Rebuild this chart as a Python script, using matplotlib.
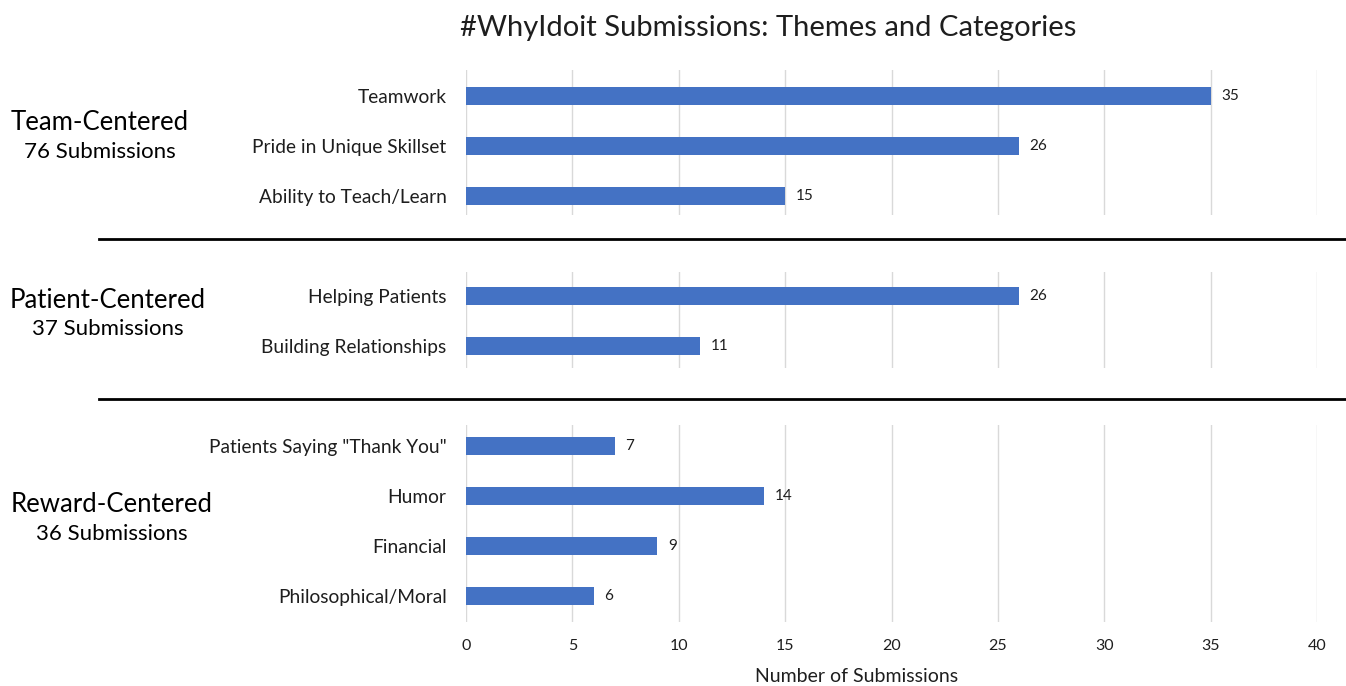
import matplotlib
matplotlib.use("Agg")
import matplotlib.pyplot as plt
from matplotlib.lines import Line2D

plt.rcParams['font.family'] = ['Lato', 'DejaVu Sans']

title = "#WhyIdoit Submissions: Themes and Categories"
xlabel = "Number of Submissions"

group_names = ["Team-Centered", "Patient-Centered", "Reward-Centered"]
group_totals = ["76 Submissions", "37 Submissions", "36 Submissions"]

team_cats = ["Teamwork", "Pride in Unique Skillset", "Ability to Teach/Learn"]
team_vals = [35, 26, 15]
patient_cats = ["Helping Patients", "Building Relationships"]
patient_vals = [26, 11]
reward_cats = ['Patients Saying "Thank You"', "Humor", "Financial", "Philosophical/Moral"]
reward_vals = [7, 14, 9, 6]

xticks = [0, 5, 10, 15, 20, 25, 30, 35, 40]

W, H = 1346, 686
fig = plt.figure(figsize=(W / 100, H / 100), dpi=100)

def fy(py):
    return 1 - py / H

x0, x1 = 466, 1317
left = x0 / W
width = (x1 - x0) / W

# panels: (top px, bottom px, ylim top, ylim bottom)
panels = [
    (70, 215, -0.52, 2.38, team_cats, team_vals),
    (272, 368, -0.48, 1.44, patient_cats, patient_vals),
    (425, 622, -0.42, 3.52, reward_cats, reward_vals),
]

txt = '#1e1e1e'
bar_color = "#4472C4"
for i, (top, bot, yt, yb, cats, vals) in enumerate(panels):
    ax = fig.add_axes([left, fy(bot), width, (bot - top) / H])
    pos = list(range(len(cats)))
    ax.barh(pos, vals, height=0.36, color=bar_color, zorder=3)
    ax.set_ylim(yb, yt)
    ax.set_xlim(0, 40)
    ax.set_xticks(xticks)
    ax.grid(axis='x', color='#d9d9d9', linewidth=1, zorder=0)
    ax.set_yticks(pos)
    ax.set_yticklabels(cats, fontsize=13.8, color=txt)
    ax.tick_params(axis='y', length=0, pad=14)
    for s in ax.spines.values():
        s.set_visible(False)
    for p, v in zip(pos, vals):
        ax.text(v + 0.5, p, str(v), va='center', ha='left', fontsize=11, color=txt)
    if i < 2:
        ax.tick_params(axis='x', length=0, labelbottom=False)
    else:
        ax.tick_params(axis='x', length=0, labelsize=11.5, labelcolor=txt, pad=12)

fig.text(768 / W, fy(28), title, ha='center', va='center', fontsize=21, color=txt)
fig.text(857 / W, fy(676), xlabel, ha='center', va='center', fontsize=14, color=txt)

# group labels
gx = [100, 108, 112]
gy = [(123, 152), (300, 329), (505, 534)]
for name, tot, x, (y1, y2) in zip(group_names, group_totals, gx, gy):
    fig.text(x / W, fy(y1), name, ha='center', va='center', fontsize=18.5, color='black')
    fig.text(x / W, fy(y2), tot, ha='center', va='center', fontsize=16, color='black')

# separators
for py in (239, 399):
    fig.add_artist(Line2D([99 / W, 1.0], [fy(py), fy(py)], color='black', linewidth=2,
                          transform=fig.transFigure))

fig.savefig("out.png", dpi=100, facecolor='white')
